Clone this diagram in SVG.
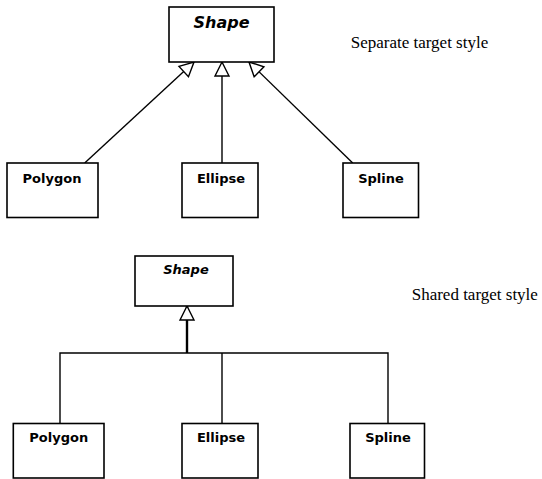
<svg xmlns="http://www.w3.org/2000/svg" width="542" height="479" viewBox="0 0 542 479">
<style>
.box{fill:#fff;stroke:#000;stroke-width:1.6}
.cls{font-family:"DejaVu Sans",Verdana,sans-serif;font-weight:bold;font-size:13px;text-anchor:middle;fill:#000}
.abs{font-style:italic}
.note{font-family:"Liberation Serif","Times New Roman",serif;font-size:17px;fill:#000}
.con{fill:none;stroke:#000;stroke-width:1.4}
</style>
<defs>
<marker id="tri" markerUnits="userSpaceOnUse" viewBox="-1 -1 16 16" refX="14" refY="7" markerWidth="16" markerHeight="16" orient="auto" overflow="visible">
<path d="M0,0 L14,7 L0,14 Z" fill="#fff" stroke="#000" stroke-width="1.4"/>
</marker>
</defs>
<g id="connectors">
<line class="con" x1="84.7" y1="163" x2="194" y2="62" marker-end="url(#tri)"/>
<line class="con" x1="222" y1="163" x2="222" y2="62" marker-end="url(#tri)"/>
<line class="con" x1="352.7" y1="163" x2="249" y2="62" marker-end="url(#tri)"/>
<line class="con" style="stroke-width:2.4" x1="187" y1="353" x2="187" y2="306" marker-end="url(#tri)"/>
<polyline class="con" points="60,423.5 60,353 388,353 388,423.5"/>
<line class="con" x1="222" y1="353" x2="222" y2="423.5"/>
</g>
<g id="shape1">
<rect class="box" x="169" y="7" width="105" height="55"/>
<text class="cls abs" style="font-size:16px" x="221.5" y="28">Shape</text>
</g>
<g id="polygon1">
<rect class="box" x="7" y="163" width="91" height="54.5"/>
<text class="cls" x="52" y="182.5">Polygon</text>
</g>
<g id="ellipse1">
<rect class="box" x="182" y="163" width="76" height="54.5"/>
<text class="cls" x="221" y="182.5">Ellipse</text>
</g>
<g id="spline1">
<rect class="box" x="343" y="163" width="75.5" height="54.5"/>
<text class="cls" x="381" y="182.5">Spline</text>
</g>
<text class="note" x="350.7" y="48.3">Separate target style</text>
<g id="shape2">
<rect class="box" x="135" y="256" width="98" height="50"/>
<text class="cls abs" x="186" y="274.3">Shape</text>
</g>
<g id="polygon2">
<rect class="box" x="13.3" y="423.5" width="90.7" height="54.5"/>
<text class="cls" x="58.8" y="441.7">Polygon</text>
</g>
<g id="ellipse2">
<rect class="box" x="182" y="423.5" width="76" height="54.5"/>
<text class="cls" x="221" y="441.7">Ellipse</text>
</g>
<g id="spline2">
<rect class="box" x="350" y="423.5" width="74.5" height="54.5"/>
<text class="cls" x="388" y="441.7">Spline</text>
</g>
<text class="note" x="411.7" y="300">Shared target style</text>
</svg>
